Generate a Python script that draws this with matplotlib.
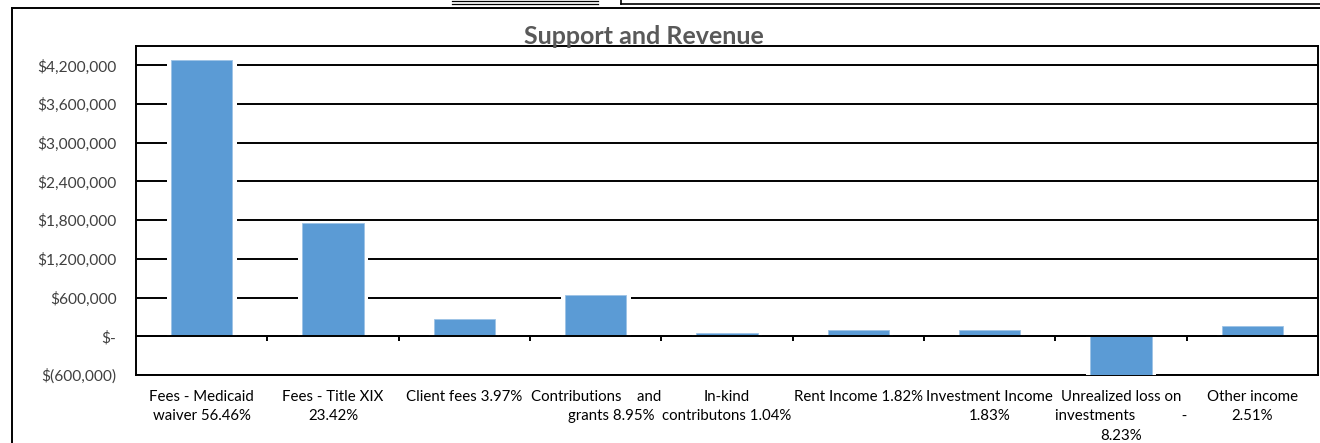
import matplotlib
matplotlib.use("Agg")
from matplotlib import pyplot as plt
from matplotlib.ticker import FuncFormatter
from matplotlib.lines import Line2D

plt.rcParams['font.family'] = ['Lato', 'DejaVu Sans']

# category labels as they appear (wrapped like the spreadsheet cells)
CATEGORIES = [
    "Fees - Medicaid\nwaiver 56.46%",
    "Fees - Title XIX\n23.42%",
    "Client fees 3.97%",
    "Contributions    and\n        grants 8.95%",
    "In-kind\ncontributons 1.04%",
    "Rent Income 1.82%",
    "Investment Income\n1.83%",
    "Unrealized loss on\ninvestments            -\n8.23%",
    "Other income\n2.51%",
]
# amounts in dollars
AMOUNTS = [4280000, 1753000, 271000, 643000, 54000, 105000, 105000, -625000, 152000]
YTICKS = [-600000, 0, 600000, 1200000, 1800000, 2400000, 3000000, 3600000, 4200000]

BLUE = '#5B9BD5'
TEXT = '#404040'


def money(v, pos=None):
    if v == 0:
        return "$-"
    if v < 0:
        return "$({:,.0f})".format(-v)
    return "${:,.0f}".format(v)


fig = plt.figure(figsize=(13.2, 4.43), dpi=100)
ax = fig.add_axes([136/1320, 1-375/443, (1318-136)/1320, (375-46)/443])

N = len(CATEGORIES)
pos = list(range(N))

# white halo behind each bar (breaks the gridlines like the original), then the bar
ax.bar(pos, AMOUNTS, width=0.535, color='white', zorder=3)
ax.bar(pos, AMOUNTS, width=0.465, color=BLUE, edgecolor='#9DC3E6', linewidth=0.6, zorder=3.1)

ax.set_xlim(-0.5, N-0.5)
ax.set_ylim(-600000, 4500000)

ax.set_yticks(YTICKS)
ax.yaxis.set_major_formatter(FuncFormatter(money))
ax.tick_params(axis='y', length=0, pad=14, labelsize=11.2, labelcolor=TEXT)
ax.grid(axis='y', color='black', linewidth=1.4, zorder=1)
ax.set_axisbelow(True)

# category axis sits at zero, ticks between categories
ax.spines['bottom'].set_position(('data', 0))
ax.spines['bottom'].set_zorder(4)
ax.set_xticks([i + 0.5 for i in range(N-1)])
ax.set_xticklabels([''] * (N-1))
ax.tick_params(axis='x', which='major', direction='out', length=3.5, width=1.4, color='black')
ax.set_xticks(pos, minor=True)
ax.set_xticklabels(CATEGORIES, minor=True, fontsize=10.8, color='black', linespacing=1.5, va='top')
ax.tick_params(axis='x', which='minor', length=0, pad=38.5)

for s in ax.spines.values():
    s.set_linewidth(1.4)
    s.set_color('black')

# frame at the bottom of the plot area
ax.axhline(-600000, color='black', linewidth=1.4, clip_on=False, zorder=2)

fig.text(644/1320, 1-44/443, "Support and Revenue", ha='center', va='baseline',
         fontsize=18, fontweight='bold', color='#595959')

# outer chart border and bits of the surrounding sheet
fig.add_artist(Line2D([12/1320, 12/1320], [0, 1-7.5/443], color='black', lw=1.4))
fig.add_artist(Line2D([12/1320, 1], [1-7.5/443, 1-7.5/443], color='black', lw=1.4))
fig.add_artist(Line2D([452/1320, 598/1320], [1-1/443, 1-1/443], color='black', lw=0.9))
fig.add_artist(Line2D([452/1320, 598/1320], [1-3.5/443, 1-3.5/443], color='black', lw=0.9))
fig.add_artist(Line2D([621/1320, 621/1320], [1, 1-3.5/443], color='black', lw=1.2))
fig.add_artist(Line2D([621/1320, 1], [1-3.5/443, 1-3.5/443], color='black', lw=1.2))

plt.savefig('out.png', dpi=100)
